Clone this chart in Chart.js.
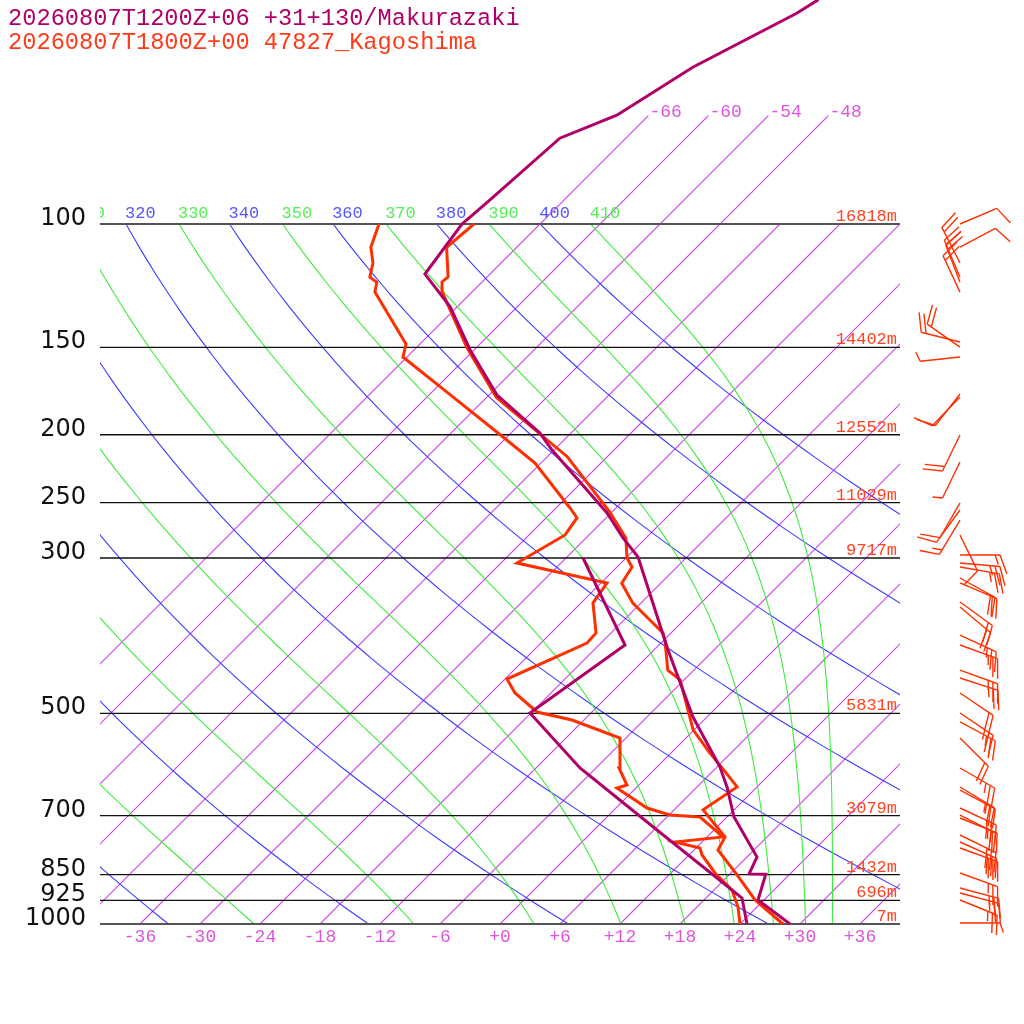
<!DOCTYPE html>
<html>
<head>
<meta charset="utf-8">
<script src="https://cdn.jsdelivr.net/npm/chart.js@4.4.1/dist/chart.umd.min.js"></script>
<style>
  html, body { margin: 0; padding: 0; background: #fff; }
  #wrap { width: 1024px; height: 1024px; }
</style>
</head>
<body>
<div id="wrap"><canvas id="skewt" width="1024" height="1024"></canvas></div>
<script>
// Makurazaki model profile (purple)
const makuTempPres = [1000, 924.1, 849, 848, 802.2, 703.3, 637.2, 596.7, 506.2, 406.0, 299.0, 280.9, 258.7, 210.3, 198.9, 175.5, 151.3, 131.3, 117.9, 100, 92.4, 75.4, 69.9, 59.7, 50.0, 47.8];
const makuTemp = [29.0, 23.4, 21.6, 19.9, 19.0, 12.7, 9.0, 6.3, -1.4, -10.6, -22.9, -26.3, -30.4, -42.2, -45.1, -53.2, -60.4, -66.7, -72.5, -73.8, -73.4, -72.6, -69.2, -66.4, -61.4, -60.6];
const makuDewPres = [1000, 918, 734, 598.6, 499.6, 399.4, 300];
const makuDew = [24.7, 21.6, 6.3, -7.6, -18.1, -15.4, -28.3];

// Kagoshima 47827 sounding (red)
const kagoTempPres = [1000, 924, 851, 784, 751, 687, 637, 593, 570, 528, 448, 434, 393, 384, 348, 326, 309, 300, 281, 258, 215, 177, 150, 125, 121, 119, 108, 100];
const kagoTemp = [28.3, 23.1, 18.8, 14.4, 13.8, 8.9, 10.0, 6.1, 3.9, -0.1, -6.4, -8.6, -11.9, -12.8, -18.8, -21.9, -22.5, -23.9, -26.0, -30.2, -40.0, -53.0, -61.0, -69.0, -70.0, -69.9, -73.0, -72.6];
const kagoDewPres = [1000, 945.6, 894.2, 845.5, 796.9, 778.8, 763.6, 751.1, 703.3, 698.7, 682.8, 639.3, 633.1, 598.6, 542.4, 511.2, 497.9, 467.7, 446.7, 396.8, 383.9, 347.9, 325.7, 305.0, 278.1, 263.0, 254.5, 219.5, 201.5, 173.8, 154.9, 148.4, 125.1, 121.1, 119.1, 113.7, 107.9, 100];
const kagoDew = [24.0, 22.1, 19.8, 16.4, 13.3, 12.4, 9.3, 13.6, 9.3, 6.1, 3.1, -1.9, -1.2, -3.7, -6.6, -13.2, -17.5, -21.6, -23.8, -19.4, -19.5, -22.8, -23.4, -34.4, -32.4, -32.9, -34.6, -42.6, -48.4, -58.5, -66.4, -67.4, -75.7, -76.5, -77.7, -78.8, -80.6, -82.1];

// Kagoshima winds: pressure, direction (deg), speed (kt)
const windPres = [100, 107.9, 113.7, 119.1, 121.1, 125.1, 147.4, 149.9, 154.9, 174.9, 176.7, 200.2, 218.8, 250.3, 256.2, 264.8, 278.1, 297.1, 305.0, 309.0, 320.4, 325.7, 346.7, 352.5, 386.5, 399.4, 433.7, 445.2, 467.7, 499.6, 514.5, 542.4, 598.6, 637.2, 643.6, 682.8, 698.7, 705.6, 746.2, 763.6, 778.8, 845.5, 888.3, 903.0, 924.1, 996.7];
const windDir = [67, 62, 333, 337, 339, 335, 284, 305, 264, 218, 224, 206, 206, 210, 216, 211, 154, 90, 95, 100, 119, 113, 126, 130, 115, 110, 110, 108, 124, 124, 118, 135, 120, 121, 118, 115, 117, 112, 116, 114, 110, 110, 105, 105, 112, 90];
const windSpd = [10, 10, 20, 20, 20, 20, 20, 20, 5, 10, 10, 20, 5, 10, 10, 15, 10, 15, 25, 25, 20, 20, 20, 20, 25, 25, 25, 25, 20, 25, 25, 20, 25, 25, 25, 25, 25, 25, 30, 30, 30, 25, 25, 25, 25, 5];

// frame levels and heights
const levelPres = [100, 150, 200, 250, 300, 500, 700, 850, 925, 1000];
const levelHeight = ["16818m", "14402m", "12552m", "11029m", "9717m", "5831m", "3079m", "1432m", "696m", "7m"];
const isothermTicks = [-36, -30, -24, -18, -12, -6, 0, 6, 12, 18, 24, 30, 36];
const topIsotherms = [-66, -60, -54, -48];
const dryThetas = [240, 260, 280, 300, 320, 340, 360, 380, 400];
const moistThetas = [250, 270, 290, 310, 330, 350, 370, 390, 410];

const PURPLE = "#b00068";
const RED = "#ff3000";
const ISO = "rgb(204, 68, 238)";
const SKEW = 30.4;

function skewX(t, p) {
  return t + SKEW * Math.log(1000 / p);
}

function profile(pres, vals) {
  return pres.map((p, i) => ({ x: skewX(vals[i], p), y: p }));
}

function thetaE(tc, p) {
  const tk = tc + 273.15;
  const es = 6.112 * Math.exp((17.67 * tc) / (tc + 243.5));
  if (es >= p * 0.6) return 1e9;
  const r = (622 * es) / (p - es);
  return (
    tk *
    Math.pow(1000 / p, 0.2854 * (1 - 0.00028 * r)) *
    Math.exp((3.376 / tk - 0.00254) * r * (1 + 0.00081 * r))
  );
}

function moistTemp(te, p) {
  let lo = -160, hi = 60;
  for (let i = 0; i < 50; i++) {
    const mid = (lo + hi) / 2;
    if (thetaE(mid, p) > te) hi = mid;
    else lo = mid;
  }
  return (lo + hi) / 2;
}

function dryTemp(th, p) {
  return th * Math.pow(p / 1000, 0.2857) - 273.15;
}

function curve(ctx, xs, ys, tempAt) {
  ctx.beginPath();
  for (let i = 0; i <= 90; i++) {
    const p = 1000 * Math.pow(0.1, i / 90);
    const px = xs.getPixelForValue(skewX(tempAt(p), p));
    const py = ys.getPixelForValue(p);
    if (i === 0) ctx.moveTo(px, py);
    else ctx.lineTo(px, py);
  }
  ctx.stroke();
}

function drawBarb(ctx, x0, y0, dir, spd) {
  const a = (dir * Math.PI) / 180;
  const ux = Math.sin(a), uy = -Math.cos(a);
  const L = 40, F = 20, S = 5;
  const tx = x0 + ux * L, ty = y0 + uy * L;
  const ang = Math.atan2(uy, ux) + (70 * Math.PI) / 180;
  const fx = Math.cos(ang), fy = Math.sin(ang);
  ctx.beginPath();
  ctx.moveTo(x0, y0);
  ctx.lineTo(tx, ty);
  const full = Math.floor(spd / 10);
  const half = spd % 10 >= 5;
  let pos = 0;
  for (let i = 0; i < full; i++) {
    const bx = tx - ux * pos, by = ty - uy * pos;
    ctx.moveTo(bx, by);
    ctx.lineTo(bx + fx * F, by + fy * F);
    pos += S;
  }
  if (half) {
    const bx = tx - ux * pos, by = ty - uy * pos;
    ctx.moveTo(bx, by);
    ctx.lineTo(bx + (fx * F) / 2, by + (fy * F) / 2);
  }
  ctx.stroke();
}

const background = {
  id: "background",
  beforeDatasetsDraw(chart) {
    const ctx = chart.ctx;
    const xs = chart.scales.x, ys = chart.scales.y;
    const left = xs.getPixelForValue(-40), right = xs.getPixelForValue(40);
    const top = ys.getPixelForValue(100), bottom = ys.getPixelForValue(1000);

    ctx.save();
    ctx.beginPath();
    ctx.rect(left, top, right - left, bottom - top);
    ctx.clip();
    ctx.lineWidth = 1.1;

    // isotherms
    for (let t = -66; t <= 48; t += 6) {
      ctx.strokeStyle = ISO;
      ctx.beginPath();
      ctx.moveTo(xs.getPixelForValue(skewX(t, 1000)), bottom);
      ctx.lineTo(xs.getPixelForValue(skewX(t, 100)), top);
      ctx.stroke();
    }
    // dry adiabats
    ctx.strokeStyle = "#3c3cff";
    dryThetas.forEach((th) => curve(ctx, xs, ys, (p) => dryTemp(th, p)));
    // moist adiabats
    ctx.strokeStyle = "#3ced3c";
    moistThetas.forEach((te) => curve(ctx, xs, ys, (p) => moistTemp(te, p)));
    ctx.restore();

    // isotherms above 100 hPa
    ctx.save();
    ctx.lineWidth = 1.1;
    ctx.fillStyle = "#dd55dd";
    ctx.font = '18px "Liberation Mono"';
    ctx.textAlign = "left";
    ctx.textBaseline = "alphabetic";
    topIsotherms.forEach((t) => {
      const x1 = xs.getPixelForValue(skewX(t, 70));
      const y1 = ys.getPixelForValue(70);
      ctx.strokeStyle = ISO;
      ctx.beginPath();
      ctx.moveTo(xs.getPixelForValue(skewX(t, 100)), top);
      ctx.lineTo(x1, y1);
      ctx.stroke();
      ctx.fillText("-" + Math.abs(t), x1 + 1, y1 + 1);
    });
    ctx.restore();

    // theta labels along 100 hPa
    ctx.save();
    ctx.beginPath();
    ctx.rect(left, 0, right - left, top);
    ctx.clip();
    ctx.font = '17px "Liberation Mono"';
    ctx.textAlign = "left";
    const labels = [];
    dryThetas.forEach((th) => labels.push([th, xs.getPixelForValue(skewX(dryTemp(th, 100), 100)), "#5555ff"]));
    moistThetas.forEach((te) => labels.push([te, xs.getPixelForValue(skewX(moistTemp(te, 100), 100)), "#55ee55"]));
    labels.forEach(([v, x, c]) => {
      ctx.fillStyle = c;
      ctx.fillText(String(v), x - 1, top - 6);
    });
    ctx.restore();

    // isobars
    ctx.save();
    levelPres.forEach((p, i) => {
      const y = ys.getPixelForValue(p);
      const edge = p === 100 || p === 1000;
      ctx.strokeStyle = edge ? "#555" : "#111";
      ctx.lineWidth = edge ? 2 : 1.3;
      ctx.beginPath();
      ctx.moveTo(left, y);
      ctx.lineTo(right, y);
      ctx.stroke();

      ctx.fillStyle = "#111";
      ctx.font = '24px "DejaVu Sans"';
      ctx.textAlign = "right";
      ctx.fillText(String(p), 86, y + 1);

      ctx.fillStyle = "#ff4422";
      ctx.font = '17px "Liberation Mono"';
      ctx.fillText(levelHeight[i], right - 3, y - 3);
    });

    // temperature ticks
    ctx.fillStyle = "#dd55dd";
    ctx.font = '18px "Liberation Mono"';
    ctx.textAlign = "center";
    isothermTicks.forEach((t) => {
      const x = xs.getPixelForValue(skewX(t, 1000));
      const txt = t >= 0 ? "+" + t : "-" + Math.abs(t);
      ctx.fillText(txt, x, bottom + 18);
    });

    // titles
    ctx.textAlign = "left";
    ctx.font = '23.7px "Liberation Mono"';
    ctx.fillStyle = PURPLE;
    ctx.fillText("20260807T1200Z+06 +31+130/Makurazaki", 8, 25);
    ctx.fillStyle = "#ff3a1a";
    ctx.fillText("20260807T1800Z+00 47827_Kagoshima", 8, 49);
    ctx.restore();
  },
  afterDatasetsDraw(chart) {
    const ctx = chart.ctx;
    const xs = chart.scales.x, ys = chart.scales.y;
    const baseX = xs.getPixelForValue(46);
    ctx.save();
    ctx.strokeStyle = RED;
    ctx.lineWidth = 1.4;
    windPres.forEach((p, i) => {
      drawBarb(ctx, baseX, ys.getPixelForValue(p), windDir[i], windSpd[i]);
    });
    ctx.restore();
  },
};

const lineStyle = {
  showLine: true,
  pointRadius: 0,
  borderWidth: 3,
  fill: false,
  tension: 0,
};

new Chart(document.getElementById("skewt").getContext("2d"), {
  type: "scatter",
  data: {
    datasets: [
      { label: "Makurazaki T", data: profile(makuTempPres, makuTemp), borderColor: PURPLE, ...lineStyle },
      { label: "Makurazaki Td", data: profile(makuDewPres, makuDew), borderColor: PURPLE, ...lineStyle },
      { label: "Kagoshima T", data: profile(kagoTempPres, kagoTemp), borderColor: RED, ...lineStyle },
      { label: "Kagoshima Td", data: profile(kagoDewPres, kagoDew), borderColor: RED, ...lineStyle },
    ],
  },
  options: {
    responsive: false,
    animation: false,
    devicePixelRatio: 1,
    layout: { padding: 0 },
    plugins: { legend: { display: false }, tooltip: { enabled: false } },
    scales: {
      x: { type: "linear", min: -50, max: 52.4, display: false, bounds: "data" },
      y: { type: "logarithmic", min: 47.86, max: 1389.5, reverse: true, display: false, bounds: "data" },
    },
  },
  plugins: [background],
});
</script>
</body>
</html>
